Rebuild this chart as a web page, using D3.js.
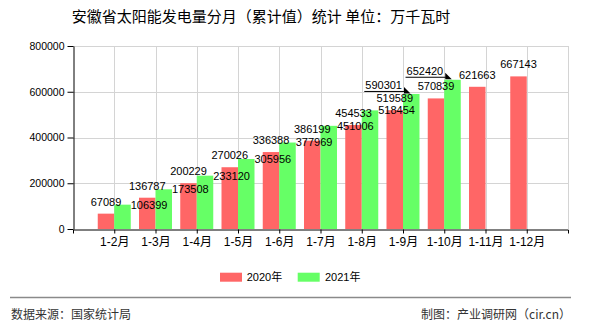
<!DOCTYPE html>
<html>
<head>
<meta charset="utf-8">
<script src="https://cdn.jsdelivr.net/npm/d3@7/dist/d3.min.js"></script>
<style>
  html, body { margin: 0; padding: 0; background: #ffffff; }
  svg { display: block; }
  text { font-family: "Liberation Sans", "Noto Sans CJK SC", sans-serif; }
  .cjk { font-family: "Noto Sans CJK SC", "Liberation Sans", sans-serif; }
</style>
</head>
<body>
<svg id="chart" width="590" height="330"></svg>
<script>
// Monthly cumulative solar generation, Anhui province (unit: 10,000 kWh)
const categories = ["1-2月", "1-3月", "1-4月", "1-5月", "1-6月", "1-7月", "1-8月", "1-9月", "1-10月", "1-11月", "1-12月"];
const values2020 = [67089, 136787, 200229, 270026, 336388, 386199, 454533, 519589, 570839, 621663, 667143];
const values2021 = [106399, 173508, 233120, 305956, 377969, 451006, 518454, 590301, 652420];
const seriesNames = ["2020年", "2021年"];
const seriesColors = ["#ff6666", "#66ff66"];
const yTicks = [0, 200000, 400000, 600000, 800000];
const titleText = "安徽省太阳能发电量分月（累计值）统计 单位：万千瓦时";
const sourceText = "数据来源：国家统计局";
const creditText = "制图：产业调研网（cir.cn）";

const svg = d3.select("#chart");
const plot = { left: 73, right: 568, top: 46, bottom: 229 };

const x = d3.scalePoint().domain(categories).range([plot.left, plot.right]).padding(1);
const y = d3.scaleLinear().domain([0, 800000]).range([plot.bottom, plot.top]);
const barW = x.step() * 0.4;

// title
svg.append("text").attr("class", "cjk")
  .attr("x", 261).attr("y", 22).attr("text-anchor", "middle")
  .attr("font-size", 15).attr("fill", "#000").text(titleText);

// grid
const grid = svg.append("g").attr("stroke", "#d4d4d4").attr("stroke-width", 1);
yTicks.filter(d => d > 0).forEach(d => {
  grid.append("line").attr("x1", plot.left).attr("x2", plot.right)
    .attr("y1", Math.round(y(d)) + 0.5).attr("y2", Math.round(y(d)) + 0.5);
});
categories.map(c => x(c)).concat([plot.right]).forEach(px => {
  grid.append("line").attr("x1", Math.round(px) + 0.5).attr("x2", Math.round(px) + 0.5)
    .attr("y1", plot.top).attr("y2", plot.bottom);
});

// bars
const bars = svg.append("g");
bars.selectAll("rect.s2020").data(values2020).join("rect")
  .attr("x", (d, i) => x(categories[i]) - barW)
  .attr("y", d => y(d)).attr("width", barW).attr("height", d => y(0) - y(d))
  .attr("fill", seriesColors[0]);
bars.selectAll("rect.s2021").data(values2021).join("rect")
  .attr("x", (d, i) => x(categories[i]))
  .attr("y", d => y(d)).attr("width", barW).attr("height", d => y(0) - y(d))
  .attr("fill", seriesColors[1]);

// axes
const yAxis = svg.append("g").attr("transform", `translate(${plot.left + 0.5},0)`)
  .call(d3.axisLeft(y).tickValues(yTicks).tickFormat(d3.format("d")).tickSize(6).tickSizeOuter(0).tickPadding(3));
yAxis.selectAll("text").attr("font-size", 10.5).attr("fill", "#000");
yAxis.selectAll("line, path").attr("stroke", "#000");

const xAxis = svg.append("g").attr("transform", `translate(0,${plot.bottom + 0.5})`)
  .call(d3.axisBottom(x).tickSize(4).tickSizeOuter(4).tickPadding(4));
xAxis.selectAll("text").attr("font-size", 12).attr("fill", "#000");
xAxis.selectAll("line, path").attr("stroke", "#000");

// value labels
const labels = svg.append("g").attr("font-size", 11).attr("fill", "#000");
const redLabelY = values2020.map(v => y(v) - 12);
values2020.forEach((v, i) => {
  labels.append("text").attr("x", x(categories[i]) - barW / 2).attr("y", redLabelY[i])
    .attr("dy", "0.35em").attr("text-anchor", "middle").text(v);
});
values2021.forEach((v, i) => {
  const cx = x(categories[i]);
  const top = y(v);
  const next = redLabelY[i + 1];
  const crowded = next !== undefined && Math.abs(top - next) < 11;
  if (!crowded) {
    labels.append("text").attr("x", cx + barW).attr("y", top)
      .attr("dy", "0.35em").attr("text-anchor", "start").text(v);
  } else {
    // pulled-out label with leader line and arrow head
    const t = labels.append("text").attr("x", cx - 1).attr("y", top - 9)
      .attr("dy", "0.35em").attr("text-anchor", "end").text(v);
    const w = t.node().getComputedTextLength();
    const ly = top - 2.5;
    labels.append("line").attr("x1", cx - 2 - w).attr("x2", cx + 1.5)
      .attr("y1", ly).attr("y2", ly).attr("stroke", "#000").attr("stroke-width", 1);
    labels.append("path")
      .attr("d", `M${cx + 1},${top - 7}L${cx + 7.5},${top - 0.5}L${cx + 1},${top - 0.5}Z`)
      .attr("fill", "#000");
  }
});

// legend
const legend = svg.append("g").attr("font-size", 11);
[[220, 246.7], [297.7, 325]].forEach((p, k) => {
  legend.append("rect").attr("x", p[0]).attr("y", 272.7).attr("width", 22).attr("height", 9)
    .attr("fill", seriesColors[k]);
  legend.append("text").attr("x", p[1]).attr("y", 277.3).attr("dy", "0.35em")
    .attr("fill", "#000").text(seriesNames[k]);
});

// footer
svg.append("line").attr("x1", 10).attr("x2", 571).attr("y1", 297.5).attr("y2", 297.5)
  .attr("stroke", "#8a8a8a").attr("stroke-width", 1.5);
svg.append("text").attr("class", "cjk").attr("x", 11).attr("y", 315).attr("dy", "0.35em")
  .attr("font-size", 12).attr("fill", "#333").text(sourceText);
svg.append("text").attr("class", "cjk").attr("x", 571).attr("y", 315).attr("dy", "0.35em")
  .attr("text-anchor", "end").attr("font-size", 12).attr("fill", "#333").text(creditText);
</script>
</body>
</html>
